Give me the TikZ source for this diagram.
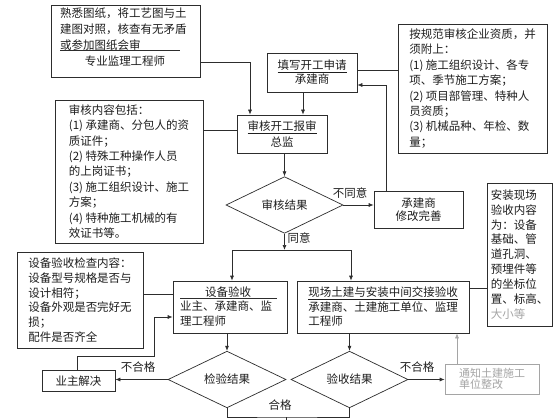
\documentclass[tikz,border=0pt]{standalone}
\usepackage{fontspec}
\newfontfamily\cjk{Noto Sans CJK SC}
\usetikzlibrary{arrows.meta,positioning,calc,shapes.geometric}
\definecolor{linegray}{RGB}{45,45,45}
\definecolor{fadegray}{RGB}{165,165,165}
\definecolor{inkgray}{RGB}{30,30,30}

\begin{document}
\begin{tikzpicture}[x=1pt,y=-1pt,
    every node/.style={font=\cjk\fontsize{11.5}{15.4}\selectfont, text=inkgray},
    box/.style={draw=linegray, line width=0.7pt, inner sep=0pt, align=left},
    decision/.style={diamond, draw=linegray, line width=0.7pt, inner sep=0pt,
      minimum width=117pt, minimum height=45pt},
    link/.style={draw=linegray, line width=0.7pt},
    arrow/.style={link, -{Latex[length=5pt,width=4pt]}},
    fadearrow/.style={draw=fadegray, line width=0.6pt, -{Latex[length=5pt,width=4pt]}}]
    % Frame
    \useasboundingbox (0,0) rectangle (560,420);
    \fill[white] (0,0) rectangle (560,420);
    % Notes on the left and right
    \node[box, minimum width=149pt, minimum height=72pt] (study) at (125.5,41) {};
    \node[anchor=north west, align=left, inner sep=0pt, font=\cjk\fontsize{11.5}{16}\selectfont] (studytxt) at (60,8)
      {熟悉图纸，将工艺图与土\\建图对照，核查有无矛盾\\或参加图纸会审};
    \draw[link] (60,50) -- (180,50);
    \node (studysign) at (125,61) {专业监理工程师};
    \node[box, minimum width=149pt, minimum height=129pt] (qual) at (472.5,88.5)
      {按规范审核企业资质，并\\须附上：\\(1) 施工组织设计、各专\\项、季节施工方案；\\(2) 项目部管理、特种人\\员资质；\\(3) 机械品种、年检、数\\量；};
    \node[box, minimum width=148pt, minimum height=143pt] (content) at (129,171.5)
      {审核内容包括：\\(1) 承建商、分包人的资\\质证件；\\(2) 特殊工种操作人员\\的上岗证书；\\(3) 施工组织设计、施工\\方案；\\(4) 特种施工机械的有\\效证书等。};
    \node[box, minimum width=126pt, minimum height=96pt, font=\cjk\fontsize{11.5}{14.8}\selectfont] (equipnote) at (80,300)
      {设备验收检查内容：\\设备型号规格是否与\\设计相符；\\设备外观是否完好无\\损；\\配件是否齐全};
    \node[box, minimum width=65pt, minimum height=143pt, font=\cjk\fontsize{11.5}{14.9}\selectfont] (install) at (519.5,254.5)
      {安装现场\\验收内容\\为：设备\\基础、管\\道孔洞、\\预埋件等\\的坐标位\\置、标高、\\\textcolor{fadegray}{大小等}};
    % Main flow
    \node[box, align=center, minimum width=90pt, minimum height=39pt, font=\cjk\fontsize{11.5}{14}\selectfont] (apply) at (312,72.5)
      {\underline{填写开工申请}\\承建商};
    \node[box, align=center, minimum width=90pt, minimum height=38pt, font=\cjk\fontsize{11.5}{15.5}\selectfont] (review) at (282,134)
      {\underline{审核开工报审}\\总监};
    \node[decision, minimum width=117pt, minimum height=44pt] (verdict) at (284.5,205) {审核结果};
    \node[box, align=center, minimum width=89pt, minimum height=37pt, font=\cjk\fontsize{11.5}{13.5}\selectfont] (revise) at (418.5,209.5)
      {承建商\\修改完善};
    \node[box, minimum width=114pt, minimum height=52pt] (equip) at (230,307) {};
    \node (equiptitle) at (228,292) {设备验收};
    \draw[link] (180,298) -- (277,298);
    \node[anchor=north west, align=left, inner sep=0pt, font=\cjk\fontsize{11.5}{14.5}\selectfont] (equiptxt) at (180,301)
      {业主、承建商、监\\理工程师};
    \node[box, minimum width=172pt, minimum height=52pt, font=\cjk\fontsize{11.5}{14.5}\selectfont] (site) at (383,307)
      {\underline{现场土建与安装中间交接验收}\\承建商、土建施工单位、监理\\工程师};
    \node[decision, minimum width=118pt] (inspect) at (227,379.5) {检验结果};
    \node[decision] (accept) at (349.5,379.5) {验收结果};
    \node[box, align=center, minimum width=73pt, minimum height=21pt] (owner) at (78.5,381) {业主解决};
    \node[box, draw=fadegray, text=fadegray, minimum width=94pt, minimum height=30pt, font=\cjk\fontsize{11}{11.5}\selectfont] (notify) at (492,379)
      {通知土建施工\\单位整改};
    % Connectors
    \draw[arrow] (study.east |- 0,62) -| ([xshift=-32pt]review.north);
    \draw[arrow] ([xshift=-9pt]apply.south) -- ([xshift=-9pt]apply.south |- review.north);
    \draw[link] (apply.east |- 0,70) -- (qual.west |- 0,70);
    \draw[link] (content.east |- 0,130) -- (review.west |- 0,130);
    \draw[arrow] (verdict.north |- review.south) -- (verdict.north);
    \draw[arrow] (verdict.east) -- (revise.west |- verdict.east);
    \node (refuse) at (350,193) {不同意};
    \draw[arrow] ([xshift=-32.5pt]revise.north) |- (apply.east |- 0,85);
    \coordinate (split) at (284.5,250);
    \coordinate (splitL) at (232,250);
    \coordinate (splitR) at (351,250);
    \draw[arrow] (verdict.south) -- (split);
    \node (agree) at (299,238) {同意};
    \draw[link] (splitL) -- (splitR);
    \draw[arrow] (splitL) -- (splitL |- equip.north);
    \draw[arrow] (splitR) -- (splitR |- site.north);
    \draw[link] (equipnote.east |- 0,294) -- (equip.west |- 0,294);
    \draw[link] (site.east |- 0,288) -- (install.west |- 0,288);
    \draw[arrow] (inspect.north |- equip.south) -- (inspect.north);
    \draw[arrow] (accept.north |- site.south) -- (accept.north);
    \draw[arrow] (inspect.west) -- (owner.east |- inspect.west);
    \node (failL) at (138,367) {不合格};
    \draw[arrow] ([xshift=-1.5pt]owner.north) |- (154,356) |- (equip.west |- 0,317);
    \draw[arrow] (accept.east) -- (notify.west |- accept.east);
    \node (failR) at (417,367) {不合格};
    \draw[fadearrow] ([xshift=-35pt]notify.north) -- ([xshift=-35pt]notify.north |- site.south);
    % Pass
    \coordinate (passjoin) at (286,417);
    \coordinate (passout) at (286,422);
    \draw[link] (inspect.south) |- (passjoin) -| (accept.south);
    \draw[link] (passjoin) -- (passout);
    \node (pass) at (280,405) {合格};
\end{tikzpicture}
\end{document}
